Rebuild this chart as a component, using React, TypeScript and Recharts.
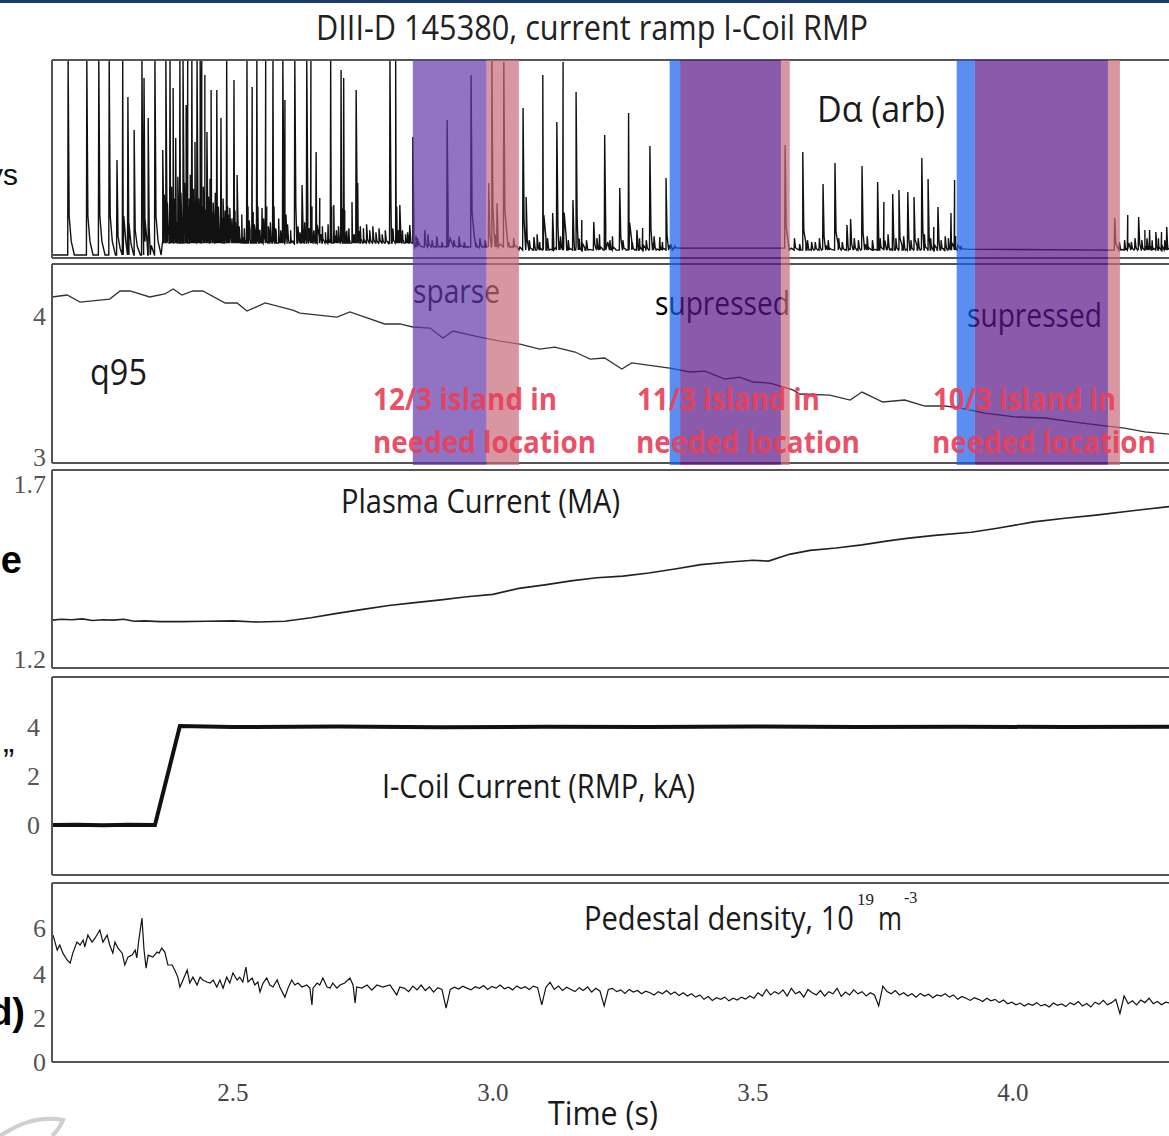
import React from 'react';
import { LineChart, Line, XAxis, YAxis, ReferenceArea } from 'recharts';

type Pt = [number, number];

const T_MIN = 2.152;
const T_MAX = 4.31;
const CHART_W = 1176;
const MINOR_TICKS = [2.2, 2.3, 2.4, 2.5, 2.6, 2.7, 2.8, 2.9, 3.0, 3.1, 3.2, 3.3, 3.4, 3.5, 3.6, 3.7, 3.8, 3.9, 4.0, 4.1, 4.2, 4.3];
const TIME_TICKS = [2.5, 3.0, 3.5, 4.0];

// D-alpha: baseline level per interval, ELM spikes (time, peak), and small "grass" spikes
const DA_BASE: Pt[] = [[2.152, 0.015], [2.365, 0.075], [2.85, 0.055], [3.05, 0.04], [3.34, 0.05], [3.57, 0.04], [3.89, 0.045], [4.19, 0.04]];
const DA_SPIKES: Pt[] = [
  [2.183, 1], [2.219, 1], [2.242, 1], [2.262, 1], [2.277, 0.495], [2.288, 1], [2.298, 0.813], [2.31, 0.646], [2.325, 1], [2.329, 0.909],
  [2.337, 0.707], [2.35, 1], [2.365, 0.545], [2.371, 1], [2.379, 1], [2.385, 0.859], [2.39, 0.606], [2.398, 1], [2.404, 1], [2.41, 0.773],
  [2.413, 1], [2.421, 1], [2.427, 0.586], [2.431, 1], [2.437, 1], [2.44, 1], [2.446, 0.924], [2.45, 0.636], [2.458, 0.848], [2.469, 0.848],
  [2.477, 0.707], [2.488, 1], [2.494, 0.253], [2.502, 0.899], [2.508, 0.419], [2.527, 1], [2.537, 0.864], [2.546, 1], [2.556, 0.253], [2.563, 1],
  [2.577, 1], [2.596, 1], [2.6, 0.798], [2.619, 1], [2.633, 0.369], [2.642, 1], [2.65, 1], [2.66, 0.535], [2.667, 0.303], [2.688, 1],
  [2.694, 0.268], [2.708, 0.95], [2.713, 0.909], [2.729, 0.283], [2.737, 0.848], [2.74, 0.379], [2.802, 1], [2.813, 1], [2.821, 0.268], [2.84, 0.167],
  [2.846, 0.611], [2.869, 0.141], [2.912, 0.697], [2.958, 0.924], [2.992, 0.379], [2.998, 1], [3.008, 0.278], [3.021, 0.99], [3.058, 0.758], [3.064, 0.308],
  [3.079, 0.106], [3.096, 0.924], [3.115, 0.227], [3.123, 0.687], [3.135, 0.99], [3.154, 0.293], [3.16, 0.838], [3.171, 0.192], [3.194, 0.182], [3.215, 0.621],
  [3.244, 0.354], [3.261, 0.732], [3.277, 0.141], [3.288, 0.152], [3.302, 0.566], [3.321, 0.106], [3.333, 0.404], [3.562, 0.571], [3.596, 0.535], [3.613, 0.081],
  [3.635, 0.374], [3.658, 0.48], [3.681, 0.167], [3.688, 0.197], [3.71, 0.465], [3.74, 0.384], [3.752, 0.283], [3.769, 0.323], [3.781, 0.343], [3.798, 0.333],
  [3.81, 0.308], [3.825, 0.505], [3.837, 0.399], [3.848, 0.157], [3.856, 0.258], [3.881, 0.227], [3.888, 0.394], [4.196, 0.202], [4.221, 0.217], [4.242, 0.207],
  [4.254, 0.141], [4.263, 0.141], [4.275, 0.131], [4.286, 0.131], [4.296, 0.157],
];
const DA_GRASS: Pt[] = [
  [2.368, 0.32], [2.374, 0.28], [2.382, 0.36], [2.387, 0.3], [2.394, 0.41], [2.4, 0.33], [2.407, 0.38], [2.416, 0.3], [2.418, 0.42], [2.424, 0.35],
  [2.434, 0.3], [2.443, 0.36], [2.453, 0.31], [2.456, 0.4], [2.462, 0.28], [2.466, 0.33], [2.472, 0.26], [2.481, 0.3], [2.485, 0.24], [2.491, 0.22],
  [2.498, 0.2], [2.505, 0.18], [2.512, 0.16], [2.517, 0.22], [2.522, 0.15], [2.531, 0.19], [2.541, 0.17], [2.551, 0.14], [2.559, 0.2], [2.568, 0.16],
  [2.572, 0.18], [2.582, 0.15], [2.588, 0.2], [2.592, 0.14], [2.605, 0.17], [2.611, 0.14], [2.625, 0.16], [2.629, 0.13], [2.638, 0.18], [2.646, 0.15],
  [2.655, 0.13], [2.672, 0.16], [2.678, 0.13], [2.683, 0.17], [2.699, 0.14], [2.703, 0.16], [2.718, 0.13], [2.723, 0.15], [2.733, 0.12], [2.745, 0.16],
  [2.751, 0.15], [2.757, 0.17], [2.763, 0.14], [2.769, 0.16], [2.775, 0.13], [2.781, 0.15], [2.787, 0.12], [2.793, 0.14], [2.807, 0.15], [2.817, 0.13],
  [2.826, 0.14], [2.832, 0.12], [2.836, 0.13], [2.855, 0.1], [2.875, 0.12], [2.883, 0.09], [2.892, 0.11], [2.902, 0.08], [2.925, 0.09], [2.935, 0.11],
  [2.945, 0.08], [2.968, 0.07], [2.975, 0.1], [2.985, 0.09], [3.03, 0.08], [3.04, 0.1], [3.07, 0.09], [3.085, 0.12], [3.09, 0.08], [3.105, 0.1],
  [3.13, 0.11], [3.145, 0.09], [3.165, 0.1], [3.18, 0.09], [3.2, 0.1], [3.205, 0.12], [3.225, 0.09], [3.23, 0.11], [3.25, 0.09], [3.268, 0.08],
  [3.282, 0.1], [3.295, 0.09], [3.31, 0.11], [3.326, 0.08], [3.342, 0.07], [3.35, 0.06], [3.58, 0.1], [3.59, 0.07], [3.605, 0.09], [3.62, 0.08],
  [3.628, 0.1], [3.645, 0.09], [3.665, 0.1], [3.672, 0.08], [3.695, 0.1], [3.703, 0.09], [3.72, 0.11], [3.73, 0.09], [3.745, 0.1], [3.76, 0.12],
  [3.775, 0.1], [3.79, 0.11], [3.804, 0.09], [3.818, 0.1], [3.83, 0.12], [3.842, 0.1], [3.862, 0.09], [3.87, 0.11], [3.876, 0.1], [3.9, 0.06],
  [4.205, 0.08], [4.215, 0.09], [4.228, 0.08], [4.235, 0.1], [4.248, 0.09], [4.258, 0.1], [4.268, 0.09], [4.28, 0.1], [4.292, 0.09],
];

const Q95: Pt[] = [
  [2.152, 4.107], [2.181, 4.12], [2.206, 4.073], [2.263, 4.093], [2.283, 4.147], [2.302, 4.147], [2.34, 4.107], [2.369, 4.127], [2.385, 4.16], [2.402, 4.12],
  [2.423, 4.147], [2.442, 4.147], [2.485, 4.067], [2.508, 4.067], [2.527, 4.013], [2.562, 4.067], [2.615, 4.02], [2.629, 4.0], [2.7, 3.973], [2.725, 4.007],
  [2.758, 3.967], [2.792, 3.927], [2.821, 3.927], [2.846, 3.907], [2.879, 3.9], [2.904, 3.833], [2.923, 3.88], [2.975, 3.84], [3.013, 3.813], [3.052, 3.793],
  [3.09, 3.76], [3.119, 3.773], [3.158, 3.74], [3.187, 3.693], [3.215, 3.7], [3.248, 3.627], [3.267, 3.667], [3.34, 3.633], [3.379, 3.607], [3.408, 3.613],
  [3.446, 3.56], [3.475, 3.573], [3.5, 3.54], [3.533, 3.533], [3.577, 3.487], [3.59, 3.46], [3.648, 3.453], [3.687, 3.42], [3.71, 3.473], [3.75, 3.407],
  [3.792, 3.42], [3.831, 3.38], [3.869, 3.38], [3.898, 3.367], [3.946, 3.333], [4.004, 3.307], [4.062, 3.3], [4.119, 3.273], [4.177, 3.247], [4.215, 3.233],
  [4.254, 3.207], [4.31, 3.19],
];

const IP: Pt[] = [
  [2.152, 1.321], [2.17, 1.323], [2.19, 1.322], [2.21, 1.324], [2.23, 1.32], [2.25, 1.322], [2.27, 1.321], [2.29, 1.323], [2.31, 1.318], [2.33, 1.319],
  [2.36, 1.317], [2.4, 1.317], [2.45, 1.318], [2.5, 1.319], [2.55, 1.316], [2.6, 1.318], [2.65, 1.327], [2.7, 1.338], [2.75, 1.348], [2.8, 1.358],
  [2.85, 1.365], [2.9, 1.372], [2.95, 1.38], [3.0, 1.386], [3.05, 1.401], [3.1, 1.41], [3.15, 1.42], [3.2, 1.428], [3.25, 1.432], [3.3, 1.44],
  [3.35, 1.45], [3.4, 1.461], [3.45, 1.467], [3.5, 1.472], [3.53, 1.47], [3.57, 1.487], [3.61, 1.497], [3.66, 1.503], [3.71, 1.511], [3.76, 1.521],
  [3.8, 1.528], [3.85, 1.535], [3.92, 1.543], [3.97, 1.553], [4.04, 1.569], [4.1, 1.578], [4.16, 1.586], [4.23, 1.597], [4.31, 1.609],
];

const ICOIL: Pt[] = [
  [2.152, 0], [2.2, 0.01], [2.25, -0.01], [2.3, 0.01], [2.35, 0], [2.398, 4.08], [2.5, 4.04], [2.7, 4.06], [2.9, 4.03], [3.1, 4.05],
  [3.3, 4.04], [3.5, 4.06], [3.7, 4.04], [3.9, 4.05], [4.1, 4.04], [4.31, 4.05],
];

const DENS_EARLY: Pt[] = [
  [2.154, 5.77], [2.162, 5.09], [2.167, 5.32], [2.173, 4.95], [2.181, 4.64], [2.187, 4.5], [2.192, 4.95], [2.2, 5.45], [2.206, 5.32], [2.212, 5.55],
  [2.215, 5.23], [2.221, 5.77], [2.229, 5.45], [2.235, 5.64], [2.244, 6.0], [2.25, 5.45], [2.258, 5.77], [2.263, 5.32], [2.269, 4.95], [2.273, 5.45],
  [2.279, 5.18], [2.287, 4.95], [2.292, 4.41], [2.298, 4.77], [2.306, 4.86], [2.312, 5.09], [2.315, 4.73], [2.319, 5.55], [2.325, 6.55], [2.329, 5.09],
  [2.333, 4.27], [2.337, 4.86], [2.346, 4.77], [2.354, 5.0], [2.358, 4.95], [2.363, 5.18], [2.369, 5.0], [2.375, 4.41], [2.383, 4.41], [2.388, 4.18],
  [2.394, 3.86], [2.398, 3.41], [2.404, 3.73], [2.412, 4.18], [2.417, 3.59], [2.423, 3.86], [2.431, 3.5], [2.437, 3.86], [2.442, 3.73], [2.45, 3.64],
  [2.456, 3.59], [2.462, 3.73], [2.469, 3.41], [2.475, 3.73], [2.481, 3.36], [2.488, 3.86], [2.494, 3.59], [2.5, 4.05], [2.508, 3.73], [2.513, 3.86],
  [2.519, 3.64], [2.525, 4.32], [2.529, 3.64], [2.537, 3.82], [2.542, 3.5], [2.548, 3.64], [2.552, 3.18], [2.558, 3.59], [2.565, 3.82], [2.571, 3.5],
  [2.577, 3.41], [2.585, 3.73], [2.59, 3.41], [2.6, 2.95], [2.606, 3.36], [2.613, 3.73], [2.619, 3.5], [2.625, 3.59], [2.633, 3.41], [2.642, 3.5],
  [2.648, 3.36], [2.652, 2.59], [2.654, 3.36], [2.662, 3.59], [2.667, 3.5], [2.673, 3.82], [2.681, 3.41], [2.687, 3.36], [2.692, 3.59], [2.7, 3.36],
  [2.706, 3.5], [2.715, 3.59], [2.725, 3.82], [2.731, 3.5], [2.735, 2.68], [2.738, 3.41], [2.748, 3.36], [2.758, 3.5], [2.767, 3.27], [2.777, 3.5],
  [2.788, 3.41], [2.802, 3.5], [2.815, 3.05], [2.821, 3.41],
];
// sampled every 8 ms from 2.83 s
const DENS_LATE_START = 2.83;
const DENS_LATE_STEP = 0.008;
const DENS_LATE: number[] = [
  3.35, 3.2, 3.45, 3.28, 3.5, 3.25, 3.42, 3.18, 3.38, 3.3,
  2.45, 3.3, 3.4, 3.32, 3.45, 3.36, 3.28, 3.42, 3.35, 3.48,
  3.3, 3.44, 3.36, 3.5, 3.33, 3.4, 3.28, 3.46, 3.34, 3.42,
  3.3, 3.45, 3.38, 2.6, 3.4, 3.62, 3.3, 3.45, 3.25, 3.4,
  3.3, 3.2, 3.38, 3.25, 3.42, 3.18, 3.35, 3.22, 2.55, 3.3,
  3.35, 3.2, 3.28, 3.12, 3.3, 3.18, 3.25, 3.1, 3.22, 3.15,
  3.05, 3.2, 3.1, 3.25, 3.08, 3.18, 3.02, 3.15, 3.0, 3.1,
  2.95, 3.05, 2.85, 2.98, 2.8, 2.92, 2.85, 2.95, 2.78, 2.9,
  2.82, 2.95, 2.86, 3.0, 2.9, 3.15, 3.0, 3.3, 3.05, 3.2,
  3.1, 3.28, 3.0, 3.35, 3.1, 3.2, 2.95, 3.3, 3.15, 3.05,
  3.25, 3.0, 3.2, 3.1, 3.35, 2.98, 3.18, 3.05, 3.28, 3.1,
  3.2, 3.0, 3.15, 3.05, 2.55, 3.45, 3.2, 3.1, 3.25, 3.05,
  3.15, 3.0, 3.1, 2.95, 3.12, 3.0, 3.08, 2.92, 3.05, 3.0,
  3.1, 2.95, 3.05, 2.85, 2.98, 2.9, 2.8, 2.92, 2.85, 2.75,
  2.9, 2.78, 2.85, 2.7, 2.82, 2.65, 2.72, 2.6, 2.68, 2.55,
  2.65, 2.58, 2.7, 2.55, 2.62, 2.5, 2.68, 2.58, 2.64, 2.52,
  2.7, 2.6, 2.75, 2.55, 2.66, 2.5, 2.72, 2.62, 2.8, 2.6,
  2.7, 2.85, 2.2, 3.0, 2.65, 2.78, 2.6, 2.82, 2.7, 2.9,
  2.65, 2.75, 2.6, 2.72, 2.68,
];

// shaded RMP windows
const BAND_X1 = [2.846, 2.988, 3.34, 3.36, 3.554, 3.892, 3.927, 4.183];
const BAND_X2 = [2.988, 3.05, 3.36, 3.554, 3.571, 3.927, 4.183, 4.206];
const BAND_KIND = ['lavender', 'pink', 'blue', 'purple', 'pink', 'blue', 'purple', 'pink'];
const BAND_COLORS: Record<string, string> = { lavender: '#6237a9', purple: '#581686', pink: '#c66977', blue: '#165eea' };

const toRows = (pts: Pt[]) => pts.map(([t, v]) => ({ t, v }));

function buildDa() {
  const baseAt = (t: number) => {
    let b = DA_BASE[0][1];
    DA_BASE.forEach(([t0, v]) => { if (t >= t0) b = v; });
    return b;
  };
  const rows: { t: number; v: number }[] = DA_BASE.map(([t, v]) => ({ t, v }));
  [...DA_SPIKES, ...DA_GRASS].forEach(([t, peak]) => {
    const b = baseAt(t);
    const h = Math.min(peak, 1) - b;
    rows.push({ t: t - 0.0008, v: b });
    rows.push({ t, v: peak });
    rows.push({ t: t + 0.002, v: b + h * 0.2 });
    rows.push({ t: t + 0.006, v: b + h * 0.07 });
    rows.push({ t: t + 0.012, v: b });
  });
  rows.push({ t: T_MAX, v: baseAt(T_MAX) });
  return rows.sort((a, c) => a.t - c.t);
}

function buildDensity() {
  const rows = toRows(DENS_EARLY);
  DENS_LATE.forEach((v, i) => rows.push({ t: +(DENS_LATE_START + i * DENS_LATE_STEP).toFixed(3), v }));
  return rows;
}

const FRAME = { stroke: '#555', strokeWidth: 2 };
const SERIF = "'Liberation Serif', 'Times New Roman', serif";
const SANS = "'Open Sans', 'Noto Sans', sans-serif";
const PAD = 14;

interface PanelProps {
  top: number;
  plotH: number;
  domain: [number, number];
  data: { t: number; v: number }[];
  strokeWidth: number;
  stroke?: string;
  leftTicks: number[];
  rightTicks: number[];
  labels?: Record<string, string>;
  labelShift?: Record<string, number>;
  labelGap?: number;
  timeAxis?: boolean;
}

function Panel(p: PanelProps) {
  const extra = p.timeAxis ? 48 : 0;
  const labelTicks = p.labels ? Object.keys(p.labels).map(Number) : [];
  const renderLabel = (props: any) => {
    const { x, y, payload } = props;
    const key = String(payload.value);
    const txt = p.labels ? p.labels[key] : undefined;
    if (!txt) return <g />;
    const dy = p.labelShift && p.labelShift[key] ? p.labelShift[key] : 0;
    return (
      <text x={x} y={y + dy} textAnchor="end" dominantBaseline="central" fontFamily={SERIF} fontSize={26} fill="#555">
        {txt}
      </text>
    );
  };
  return (
    <div style={{ position: 'absolute', left: 0, top: p.top - PAD }}>
      <LineChart width={CHART_W} height={p.plotH + 2 * PAD + extra} data={p.data} margin={{ top: PAD, right: 2, bottom: PAD, left: 12 }}>
        <XAxis xAxisId="b" dataKey="t" type="number" domain={[T_MIN, T_MAX]} allowDataOverflow orientation="bottom" mirror height={1}
          ticks={MINOR_TICKS} interval={0} tick={false} tickSize={4} tickLine={{ stroke: '#333' }} axisLine={FRAME} />
        <XAxis xAxisId="t" dataKey="t" type="number" domain={[T_MIN, T_MAX]} allowDataOverflow orientation="top" mirror height={1}
          ticks={MINOR_TICKS} interval={0} tick={false} tickSize={4} tickLine={{ stroke: '#333' }} axisLine={FRAME} />
        {p.timeAxis && (
          <XAxis xAxisId="lab" dataKey="t" type="number" domain={[T_MIN, T_MAX]} allowDataOverflow orientation="bottom" height={48}
            ticks={TIME_TICKS} interval={0} tickLine={false} axisLine={false} tickSize={0} tickMargin={21}
            tickFormatter={(v: number) => v.toFixed(1)} tick={{ fontFamily: SERIF, fontSize: 25, fill: '#444' }} />
        )}
        <YAxis yAxisId="l" type="number" domain={p.domain} allowDataOverflow orientation="left" mirror width={1}
          ticks={p.leftTicks} interval={0} tick={false} tickSize={20} tickLine={{ stroke: '#333', strokeWidth: 1.5 }} axisLine={FRAME} />
        <YAxis yAxisId="lab" type="number" domain={p.domain} allowDataOverflow orientation="left" width={40}
          ticks={labelTicks} interval={0} tick={p.labels ? renderLabel : false} tickLine={false} axisLine={false} tickSize={0} tickMargin={p.labelGap ?? 6} />
        <YAxis yAxisId="r" type="number" domain={p.domain} allowDataOverflow orientation="right" mirror width={1}
          ticks={p.rightTicks} interval={0} tick={false} tickSize={20} tickLine={{ stroke: '#333', strokeWidth: 1.5 }} axisLine={false} />
        <Line xAxisId="b" yAxisId="l" type="linear" dataKey="v" stroke={p.stroke ?? '#111'} strokeWidth={p.strokeWidth}
          dot={false} activeDot={false} isAnimationActive={false} />
      </LineChart>
    </div>
  );
}

function Bands() {
  return (
    <div style={{ position: 'absolute', left: 0, top: 60 }}>
      <LineChart width={CHART_W} height={405} data={[{ t: T_MIN, v: 0 }, { t: T_MAX, v: 1 }]} margin={{ top: 0, right: 2, bottom: 0, left: 52 }}>
        <XAxis xAxisId="bx" dataKey="t" type="number" domain={[T_MIN, T_MAX]} allowDataOverflow orientation="bottom" mirror height={1}
          tick={false} tickLine={false} axisLine={false} />
        <YAxis yAxisId="by" type="number" domain={[0, 1]} allowDataOverflow orientation="left" mirror width={1}
          tick={false} tickLine={false} axisLine={false} />
        <Line xAxisId="bx" yAxisId="by" dataKey="v" stroke="none" dot={false} activeDot={false} isAnimationActive={false} />
        {BAND_X1.map((x1, i) => (
          <ReferenceArea key={i} xAxisId="bx" yAxisId="by" x1={x1} x2={BAND_X2[i]} y1={0} y2={1} ifOverflow="visible"
            fill={BAND_COLORS[BAND_KIND[i]]} fillOpacity={0.7} stroke="none" />
        ))}
      </LineChart>
    </div>
  );
}

export default function App() {
  const da = buildDa();
  const dens = buildDensity();
  const txt = { fontFamily: SANS, fill: '#1a1a1a', lengthAdjust: 'spacingAndGlyphs' as const };
  const red = { fontFamily: SANS, fontWeight: 700, fontSize: 31, fill: '#e8405a', fillOpacity: 0.92, lengthAdjust: 'spacingAndGlyphs' as const };
  return (
    <div style={{ position: 'absolute', left: 0, top: 0, width: 1169, height: 1136, overflow: 'hidden', background: '#fff' }}>
      <div style={{ position: 'absolute', left: 0, top: 0, width: 1169, height: 3, background: '#1b3a6b' }} />
      <Panel top={60} plotH={198} domain={[0, 1]} data={da} strokeWidth={1.4}
        leftTicks={[0.25, 0.5, 0.75]} rightTicks={[0.25, 0.5, 0.75]} />
      <Panel top={264} plotH={199} domain={[3, 4.327]} data={toRows(Q95)} strokeWidth={1.3} stroke="#333"
        leftTicks={[3.333, 3.667, 4]} rightTicks={[3.333, 3.667, 4]}
        labels={{ '3': '3', '4': '4' }} labelShift={{ '3': -6, '4': 3 }} />
      <Panel top={470} plotH={198} domain={[1.2, 1.7]} data={toRows(IP)} strokeWidth={1.6} stroke="#222"
        leftTicks={[1.325, 1.45, 1.575]} rightTicks={[1.325, 1.45, 1.575]}
        labels={{ '1.2': '1.2', '1.7': '1.7' }} labelShift={{ '1.2': -9, '1.7': 14 }} />
      <Panel top={677} plotH={198} domain={[-2.06, 6.1]} data={toRows(ICOIL)} strokeWidth={4}
        leftTicks={[-2, 0, 2, 4, 6]} rightTicks={[-2, 6]}
        labels={{ '0': '0', '2': '2', '4': '4' }} labelGap={12} />
      <Panel top={883} plotH={179} domain={[0, 8.14]} data={dens} strokeWidth={1.2}
        leftTicks={[0, 2, 4, 6, 8]} rightTicks={[0, 2, 4, 6, 8]}
        labels={{ '0': '0', '2': '2', '4': '4', '6': '6' }} labelShift={{ '6': -2 }} timeAxis />

      <svg width={1169} height={1136} style={{ position: 'absolute', left: 0, top: 0, pointerEvents: 'none' }}>
        <text {...txt} x={316} y={40} fontSize={34} textLength={552} fill="#222">DIII-D 145380, current ramp I-Coil RMP</text>
        <text {...txt} x={817} y={122} fontSize={37} textLength={128}>Dα (arb)</text>
        <text {...txt} x={90} y={385} fontSize={36} textLength={57}>q95</text>
        <text {...txt} x={413} y={303} fontSize={33} textLength={87} fill="#000">sparse</text>
        <text {...txt} x={655} y={315} fontSize={33} textLength={135} fill="#000">supressed</text>
        <text {...txt} x={967} y={327} fontSize={33} textLength={135} fill="#000">supressed</text>
        <text {...txt} x={341} y={513} fontSize={32} textLength={279}>Plasma Current (MA)</text>
        <text {...txt} x={382} y={798} fontSize={32} textLength={313}>I-Coil Current (RMP, kA)</text>
        <text {...txt} x={584} y={930} fontSize={33} textLength={270}>Pedestal density, 10</text>
        <text x={857} y={905} fontFamily={SERIF} fontSize={17} fill="#222">19</text>
        <text {...txt} x={878} y={930} fontSize={33} textLength={24}>m</text>
        <text x={904} y={903} fontFamily={SERIF} fontSize={16} fill="#222">-3</text>
        <text {...txt} x={548} y={1125} fontSize={32} textLength={110}>Time (s)</text>
        <text x={18} y={185} textAnchor="end" fontFamily="'Liberation Sans', sans-serif" fontSize={30} fill="#111">ys</text>
        <text x={22} y={573} textAnchor="end" fontFamily="'Liberation Sans', sans-serif" fontWeight={700} fontSize={38} fill="#000">e</text>
        <text x={3} y={772} fontFamily="'Liberation Sans', sans-serif" fontSize={34} fill="#111">”</text>
        <text x={25} y={1025} textAnchor="end" fontFamily="'Liberation Sans', sans-serif" fontWeight={700} fontSize={38} fill="#000">d)</text>
        <path d="M0 1136 Q 32 1114 63 1120 Q 60 1128 52 1136" fill="none" stroke="#cfcfcf" strokeWidth={4} />
      </svg>

      <Bands />

      <svg width={1169} height={1136} style={{ position: 'absolute', left: 0, top: 0, pointerEvents: 'none' }}>
        <text {...red} x={373} y={410} textLength={184}>12/3 island in</text>
        <text {...red} x={373} y={453} textLength={223}>needed location</text>
        <text {...red} x={637} y={410} textLength={183}>11/3 island in</text>
        <text {...red} x={636} y={453} textLength={224}>needed location</text>
        <text {...red} x={933} y={410} textLength={183}>10/3 island in</text>
        <text {...red} x={932} y={453} textLength={224}>needed location</text>
      </svg>
    </div>
  );
}
